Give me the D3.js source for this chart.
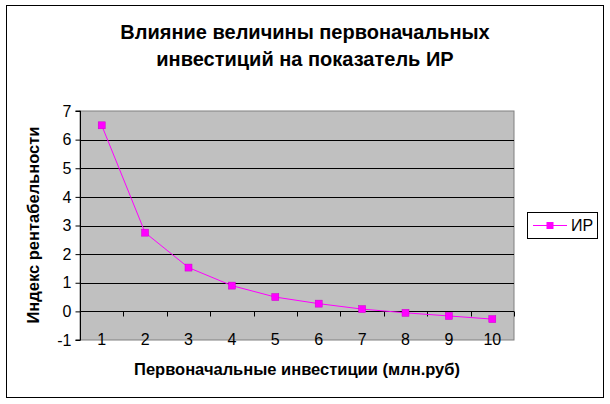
<!DOCTYPE html>
<html><head><meta charset="utf-8">
<script src="https://cdn.jsdelivr.net/npm/d3@7"></script>
<style>body{margin:0;background:#fff}svg{display:block}text{font-family:"Liberation Sans",Arial,sans-serif}</style>
</head><body>
<script>
const categories = [1,2,3,4,5,6,7,8,9,10];
const values = [6.5, 2.75, 1.53, 0.9, 0.5, 0.27, 0.08, -0.05, -0.16, -0.27];
const yTicks = [-1,0,1,2,3,4,5,6,7];
const seriesName = "ИР";
const titleLines = ["Влияние величины первоначальных","инвестиций на показатель ИР"];
const xTitle = "Первоначальные инвестиции (млн.руб)";
const yTitle = "Индекс рентабельности";

const W=610,H=404;
const svg=d3.select("body").append("svg").attr("width",W).attr("height",H);
svg.append("rect").attr("x",6.5).attr("y",5.5).attr("width",597).attr("height",392).attr("fill","#fff").attr("stroke","#000");

const L=80,R=514,T=111,B=340;
const x=d3.scaleBand().domain(categories).range([L,R]);
const y=d3.scaleLinear().domain([-1,7]).range([B,T]);

svg.append("rect").attr("x",L).attr("y",T).attr("width",R-L).attr("height",B-T).attr("fill","#c0c0c0").attr("stroke","#808080");
// gridlines
svg.append("g").selectAll("line").data(yTicks.filter(d=>d>-1&&d<7)).join("line")
 .attr("x1",L).attr("x2",R).attr("y1",d=>Math.round(y(d))+0.5).attr("y2",d=>Math.round(y(d))+0.5).attr("stroke","#000");
// y axis
const ya=svg.append("g").attr("transform",`translate(${L+0.5},0)`).call(d3.axisLeft(y).tickValues(yTicks).tickSize(5).tickFormat(d=>String(d)));
ya.select(".domain").attr("stroke","#000").attr("d",`M-5,${T}H0V${B}H-5`);
ya.selectAll("text").attr("font-size",16).attr("fill","#000").attr("font-family","Liberation Sans, Arial, sans-serif").attr("dx",-1);
ya.selectAll("line").attr("stroke","#000");
// x axis at 0
const y0=Math.round(y(0))+0.5;
const xa=svg.append("g").attr("transform",`translate(0,${y0})`).call(d3.axisBottom(x).tickSize(0).tickFormat(d=>d));
xa.select(".domain").attr("stroke","#000").attr("d",`M${L},0H${R}`);
xa.selectAll("text").attr("font-size",16).attr("fill","#000").attr("font-family","Liberation Sans, Arial, sans-serif").attr("y",33).attr("dy",0);
svg.append("g").selectAll("line").data(d3.range(0,categories.length+1)).join("line")
 .attr("x1",i=>Math.round(L+i*x.step())+0.5).attr("x2",i=>Math.round(L+i*x.step())+0.5)
 .attr("y1",y0).attr("y2",y0+5).attr("stroke","#000");

// line
const line=d3.line().x((d,i)=>x(categories[i])+x.bandwidth()/2).y(d=>y(d));
svg.append("path").datum(values).attr("d",line).attr("fill","none").attr("stroke","#ff00ff").attr("stroke-width",1);
svg.append("g").selectAll("rect").data(values).join("rect")
 .attr("x",(d,i)=>x(categories[i])+x.bandwidth()/2-3.5).attr("y",d=>y(d)-3.5).attr("width",7).attr("height",7)
 .attr("fill","#ff00ff").attr("stroke","#cc00cc").attr("stroke-width",0.5);

// titles
svg.append("text").attr("x",305).attr("y",0).attr("text-anchor","middle").attr("font-size",20).attr("font-weight","bold")
 .selectAll("tspan").data(titleLines).join("tspan").attr("x",305).attr("y",(d,i)=>39+i*27).text(d=>d);
svg.append("text").attr("x",297).attr("y",375).attr("text-anchor","middle").attr("font-size",16.5).attr("font-weight","bold").text(xTitle);
svg.append("text").attr("transform","translate(39,225) rotate(-90)").attr("text-anchor","middle").attr("font-size",16.5).attr("font-weight","bold").text(yTitle);

// legend
const lg=svg.append("g");
lg.append("rect").attr("x",527.5).attr("y",212.5).attr("width",70).attr("height",26).attr("fill","#fff").attr("stroke","#000");
lg.append("line").attr("x1",533).attr("x2",567).attr("y1",225.5).attr("y2",225.5).attr("stroke","#ff00ff");
lg.append("rect").attr("x",546.5).attr("y",222).attr("width",7).attr("height",7).attr("fill","#ff00ff");
lg.append("text").attr("x",571).attr("y",231).attr("font-size",16).text(seriesName);
</script>
</body></html>
